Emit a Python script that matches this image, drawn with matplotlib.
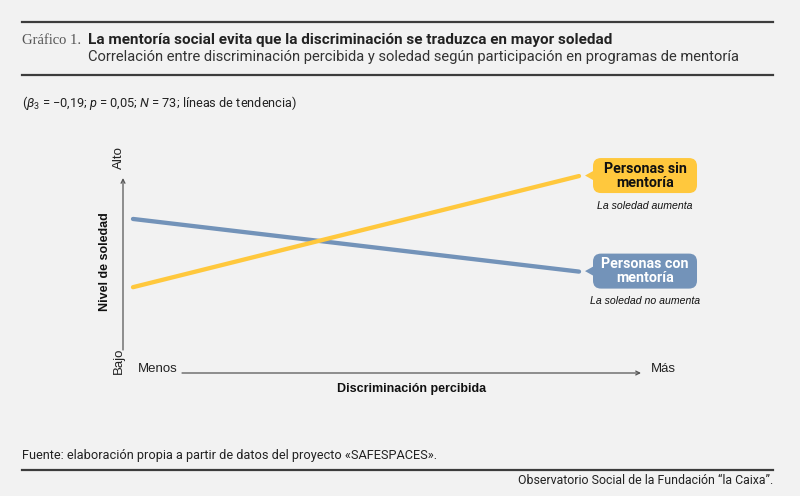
import matplotlib
matplotlib.use('Agg')
import matplotlib.pyplot as plt
import matplotlib.transforms as mtransforms
from matplotlib.patches import FancyBboxPatch, Polygon

# chart values (conceptual trend lines)
discriminacion = [0, 1]                 # Menos -> Más
soledad_sin_mentoria = [0.44, 1.01]
soledad_con_mentoria = [0.79, 0.52]
etiqueta_sin = 'Personas sin\nmentoría'
etiqueta_con = 'Personas con\nmentoría'
nota_sin = 'La soledad aumenta'
nota_con = 'La soledad no aumenta'

YELLOW = '#FFC83D'
BLUE = '#7393B9'
BG = '#F2F2F2'
RULE = '#3C3C3C'
AXC = '#555555'

W, H = 800, 496

cond = 'Roboto'
sans = 'Liberation Sans'
serif = 'Liberation Serif'
plt.rcParams['font.family'] = [sans, 'DejaVu Sans']
plt.rcParams['mathtext.fontset'] = 'custom'
plt.rcParams['mathtext.rm'] = 'Roboto'
plt.rcParams['mathtext.it'] = 'Roboto:italic'


def px(x, y):
    return x / W, 1 - y / H


fig = plt.figure(figsize=(W / 100, H / 100), dpi=100, facecolor=BG)

# header / footer rules
for y in (22, 75, 470):
    fig.add_artist(plt.Line2D([22 / W, 773 / W], [1 - y / H] * 2, color=RULE, lw=1.6))

fig.text(*px(22, 41), 'Gráfico 1.', family=serif, fontsize=10.5, color='#555555', va='center')
fig.text(*px(88, 40), 'La mentoría social evita que la discriminación se traduzca en mayor soledad',
         family=cond, fontweight='bold', fontsize=11, color='#222222', va='center')
fig.text(*px(88, 57), 'Correlación entre discriminación percibida y soledad según participación en programas de mentoría',
         family=cond, fontsize=10.6, color='#333333', va='center')
fig.text(*px(22, 103), r'($\beta_{3}$ = −0,19; $p$ = 0,05; $N$ = 73; líneas de tendencia)',
         family=cond, fontsize=9.2, color='#222222', va='center')
fig.text(*px(22, 455), 'Fuente: elaboración propia a partir de datos del proyecto «SAFESPACES».',
         family=cond, fontsize=9.15, color='#222222', va='center')
fig.text(*px(773, 481), 'Observatorio Social de la Fundación “la Caixa”.',
         family=cond, fontsize=8.9, color='#222222', va='center', ha='right')

# plot area: x axis from 123 to 641 px, y axis from 178 to 373 px
l, r, t, b = 123, 641, 178, 373
ax = fig.add_axes([l / W, 1 - b / H, (r - l) / W, (b - t) / H])
ax.set_facecolor('none')
ax.set_xlim(-0.0224, 1.139)
ax.set_ylim(0, 1)
ax.axis('off')

ax.plot(discriminacion, soledad_con_mentoria, color=BLUE, lw=3.1, solid_capstyle='round', clip_on=False)
ax.plot(discriminacion, soledad_sin_mentoria, color=YELLOW, lw=3.1, solid_capstyle='round', clip_on=False)

# axis arrows
arr = dict(arrowstyle='->', color=AXC, lw=0.9, shrinkA=0, shrinkB=0, mutation_scale=7)
ax.annotate('', xy=(0, 1), xytext=(0, (b - 350) / (b - t)), xycoords='axes fraction', arrowprops=arr)
ax.annotate('', xy=(1, 0), xytext=((182 - l) / (r - l), 0), xycoords='axes fraction', arrowprops=arr)

fig.text(*px(119, 158), 'Alto', rotation=90, fontsize=9.5, ha='center', va='center', color='#222222')
fig.text(*px(119, 361), 'Bajo', rotation=90, fontsize=9.5, ha='center', va='center', color='#222222')
fig.text(*px(105, 262), 'Nivel de soledad', rotation=90, fontsize=9, fontweight='bold',
         ha='center', va='center', color='#111111')
fig.text(*px(138, 369), 'Menos', fontsize=9.5, ha='left', va='center', color='#222222')
fig.text(*px(651, 369), 'Más', fontsize=9.5, ha='left', va='center', color='#222222')
fig.text(*px(412, 389), 'Discriminación percibida', fontsize=9, fontweight='bold',
         ha='center', va='center', color='#111111')

# speech-bubble labels at the line ends (sizes in pixels, anchored at the end point)
for ys, label, note, fc, tc in [(soledad_sin_mentoria, etiqueta_sin, nota_sin, YELLOW, '#111111'),
                                (soledad_con_mentoria, etiqueta_con, nota_con, BLUE, 'white')]:
    anchor = mtransforms.IdentityTransform() + mtransforms.ScaledTranslation(
        discriminacion[-1], ys[-1], ax.transData)
    box = FancyBboxPatch((14, -17), 104, 35, boxstyle='round,pad=0,rounding_size=8',
                         fc=fc, ec='none', transform=anchor, clip_on=False)
    tail = Polygon([(6, 0.5), (15, -4.5), (15, 5.5)], closed=True, fc=fc, ec='none',
                   transform=anchor, clip_on=False)
    fig.add_artist(box)
    fig.add_artist(tail)
    fig.text(66, 0.5, label, transform=anchor, ha='center', va='center', family=cond,
             fontsize=10.3, fontweight='bold', color=tc, linespacing=1.0)
    fig.text(66, -29.5, note, transform=anchor, ha='center', va='center', fontsize=7.6,
             style='italic', color='#111111')

fig.savefig('out.png', dpi=100, facecolor=BG)
